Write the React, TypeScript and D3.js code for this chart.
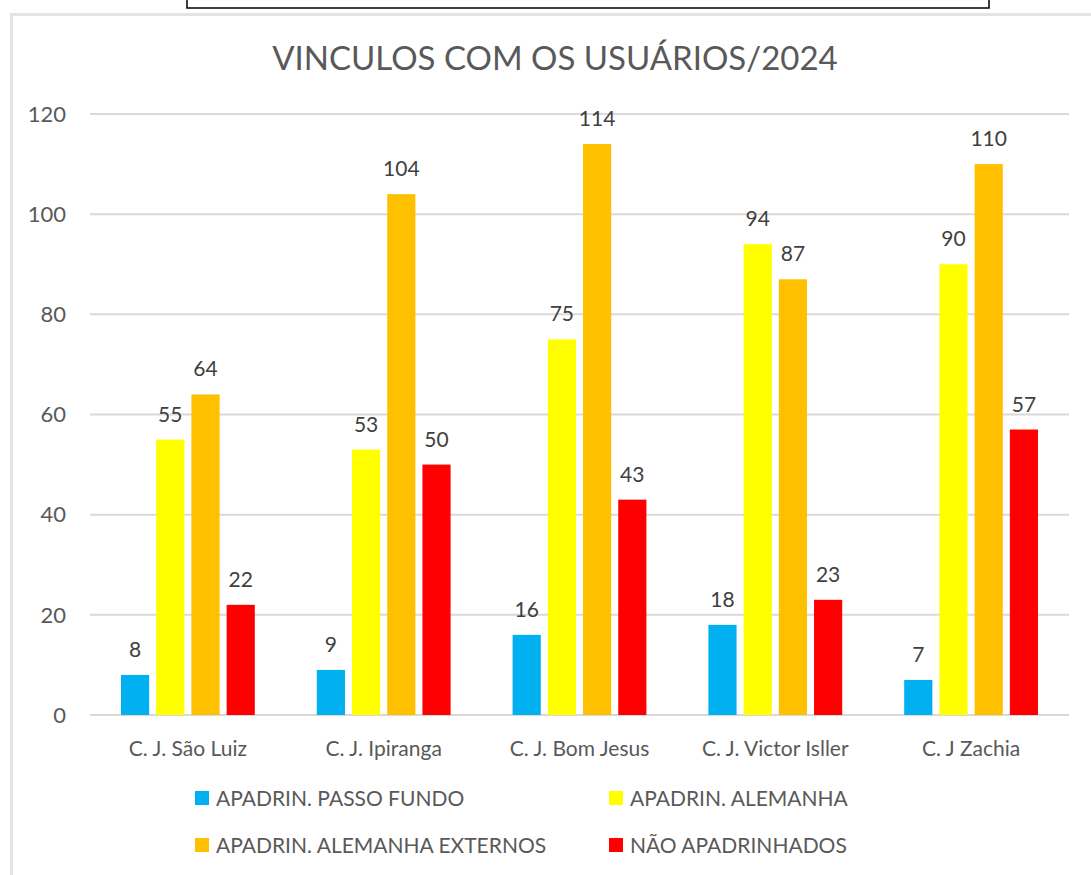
import React from "react";
import * as d3 from "d3";

const categories = ["C. J. São Luiz", "C. J. Ipiranga", "C. J. Bom Jesus", "C. J. Victor Isller", "C. J Zachia"];
const seriesNames = ["APADRIN. PASSO FUNDO", "APADRIN. ALEMANHA", "APADRIN. ALEMANHA EXTERNOS", "NÃO APADRINHADOS"];
const seriesColors = ["#00B0F0", "#FFFF00", "#FFC000", "#FF0000"];
const passoFundo = [8, 9, 16, 18, 7];
const alemanha = [55, 53, 75, 94, 90];
const alemanhaExternos = [64, 104, 114, 87, 110];
const naoApadrinhados = [22, 50, 43, 23, 57];
const yTicks = [0, 20, 40, 60, 80, 100, 120];
const title = "VINCULOS COM OS USUÁRIOS/2024";

const seriesValues = [passoFundo, alemanha, alemanhaExternos, naoApadrinhados];

const W = 1091;
const H = 875;
const plotLeft = 90;
const plotRight = 1069;
const FONT = "Lato, 'Open Sans', sans-serif";
const TXT = "#595959";

export default function App() {
  const x0 = d3.scaleBand<string>().domain(categories).range([plotLeft, plotRight]).paddingInner(0).paddingOuter(0);
  const groupPad = 31;
  const x1 = d3
    .scaleBand<number>()
    .domain(d3.range(seriesNames.length))
    .range([groupPad, x0.bandwidth() - groupPad])
    .paddingInner(0.2)
    .paddingOuter(0);
  const y = d3.scaleLinear().domain([0, 120]).range([715, 114]);

  return (
    <svg
      width={W}
      height={H}
      style={{ position: "absolute", left: 0, top: 0, background: "#fff" }}
      fontFamily={FONT}
    >
      <rect x={0} y={0} width={W} height={H} fill="#fff" />
      {/* chart area border (left & top visible) */}
      <path d={`M11.5,${H} L11.5,14.5 L${W},14.5`} fill="none" stroke="#e3e3e3" strokeWidth={3} />
      {/* top box */}
      <rect x={187} y={-10} width={802} height={18} fill="#fff" stroke="#000" strokeWidth={1.5} />

      <text x={555} y={70} textAnchor="middle" fontSize={33} fill={TXT}>
        {title}
      </text>

      {/* gridlines */}
      {yTicks.map((t) => (
        <g key={t}>
          <line x1={plotLeft} x2={plotRight} y1={y(t)} y2={y(t)} stroke="#d9d9d9" strokeWidth={2} />
          <text x={66} y={y(t)} dy="0.35em" textAnchor="end" fontSize={22} fill={TXT}>
            {t}
          </text>
        </g>
      ))}

      {/* bars */}
      {categories.map((c, ci) => (
        <g key={c} transform={`translate(${x0(c)},0)`}>
          {seriesValues.map((vals, si) => {
            const v = vals[ci];
            const bx = x1(si) as number;
            return (
              <g key={si}>
                <rect x={bx} y={y(v)} width={x1.bandwidth()} height={y(0) - y(v)} fill={seriesColors[si]} />
                <text
                  x={bx + x1.bandwidth() / 2}
                  y={y(v) - 18}
                  textAnchor="middle"
                  fontSize={21}
                  fill="#404040"
                >
                  {v}
                </text>
              </g>
            );
          })}
          <text x={x0.bandwidth() / 2} y={756} textAnchor="middle" fontSize={21} fill={TXT}>
            {c}
          </text>
        </g>
      ))}

      {/* legend */}
      {seriesNames.map((name, i) => {
        const col = i % 2;
        const row = Math.floor(i / 2);
        const lx = col === 0 ? 195 : 609;
        const ly = row === 0 ? 798 : 845;
        return (
          <g key={name}>
            <rect x={lx} y={ly - 7} width={14} height={14} fill={seriesColors[i]} />
            <text x={lx + 21} y={ly} dy="0.36em" fontSize={21} fill={TXT}>
              {name}
            </text>
          </g>
        );
      })}
    </svg>
  );
}
